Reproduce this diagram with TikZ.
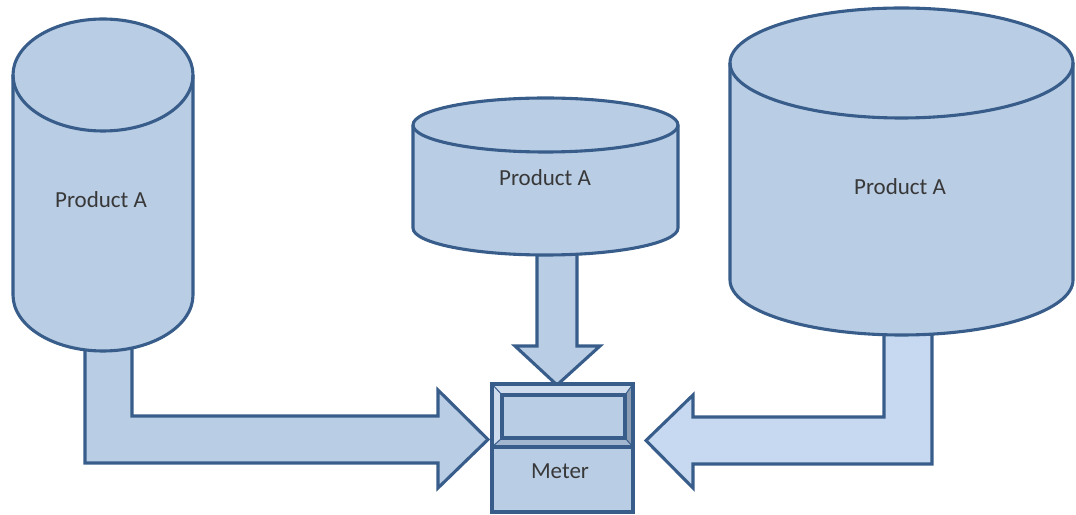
\documentclass[tikz,border=0pt]{standalone}
\usepackage{fontspec}
\setmainfont{Carlito}
\definecolor{fillA}{HTML}{B9CDE5}
\definecolor{fillB}{HTML}{C6D9F1}
\definecolor{edge}{HTML}{385D8A}
\definecolor{txt}{HTML}{383838}
\definecolor{bevlight}{HTML}{CFDCEE}
\definecolor{bevdark}{HTML}{8C9DB3}
\definecolor{bevmid}{HTML}{A3B6CF}
\newcommand{\tankshape}[5]{% cx, rx, ytop, ybot, ry
  \draw[shapeA] (#1-#2,#3) -- (#1-#2,#4)
    arc[start angle=180,end angle=360,x radius=#2,y radius=#5]
    -- (#1+#2,#3)
    arc[start angle=0,end angle=180,x radius=#2,y radius=#5] -- cycle;
  \draw[outline] (#1-#2,#3) arc[start angle=180,end angle=360,x radius=#2,y radius=#5];
}
\begin{document}
\begin{tikzpicture}[x=1pt,y=1pt,
  outline/.style={draw=edge,line width=3.1pt,line join=miter},
  shapeA/.style={outline,fill=fillA},
  shapeB/.style={outline,fill=fillB},
  lbl/.style={text=txt,font=\fontsize{23}{26}\selectfont,inner sep=0pt}]
\useasboundingbox (0,0) rectangle (1076,514);

% block arrows
\draw[shapeA] (85,200) -- (132,200) -- (132,98) -- (438,98) -- (438,124)
  -- (488,74.5) -- (438,26) -- (438,51) -- (85,51) -- cycle;
\draw[shapeA] (537,275) -- (537,168) -- (515,168) -- (557,129)
  -- (600,168) -- (577,168) -- (577,275) -- cycle;
\draw[shapeB] (932,200) -- (932,50) -- (693,50) -- (693,26) -- (646,73.5)
  -- (693,119) -- (693,97) -- (884,97) -- (884,200) -- cycle;

% tanks
\tankshape{103}{90}{439}{219}{56}
\tankshape{545.5}{132.5}{389}{286}{27}
\tankshape{901.5}{171.5}{451}{234}{55}
\node[lbl] (tankL) at (101,314) {Product A};
\node[lbl] (tankM) at (545,336) {Product A};
\node[lbl] (tankR) at (900,327) {Product A};

% meter
\draw[shapeA] (492,2) rectangle (633,130);
\fill[bevlight] (492,67) -- (492,130) -- (633,130) -- (625,119) -- (502,119) -- (502,76) -- cycle;
\fill[bevdark] (633,130) -- (633,67) -- (625,76) -- (625,119) -- cycle;
\fill[bevmid] (492,67) -- (633,67) -- (625,76) -- (502,76) -- cycle;
\draw[outline,fill=fillA] (502,76) rectangle (625,119);
\draw[outline] (492,67) rectangle (633,130);
\draw[edge,line width=1pt] (492,130) -- (502,119) (633,130) -- (625,119)
  (492,67) -- (502,76) (633,67) -- (625,76);
\node[lbl] (meter) at (560,43) {Meter};
\end{tikzpicture}
\end{document}
